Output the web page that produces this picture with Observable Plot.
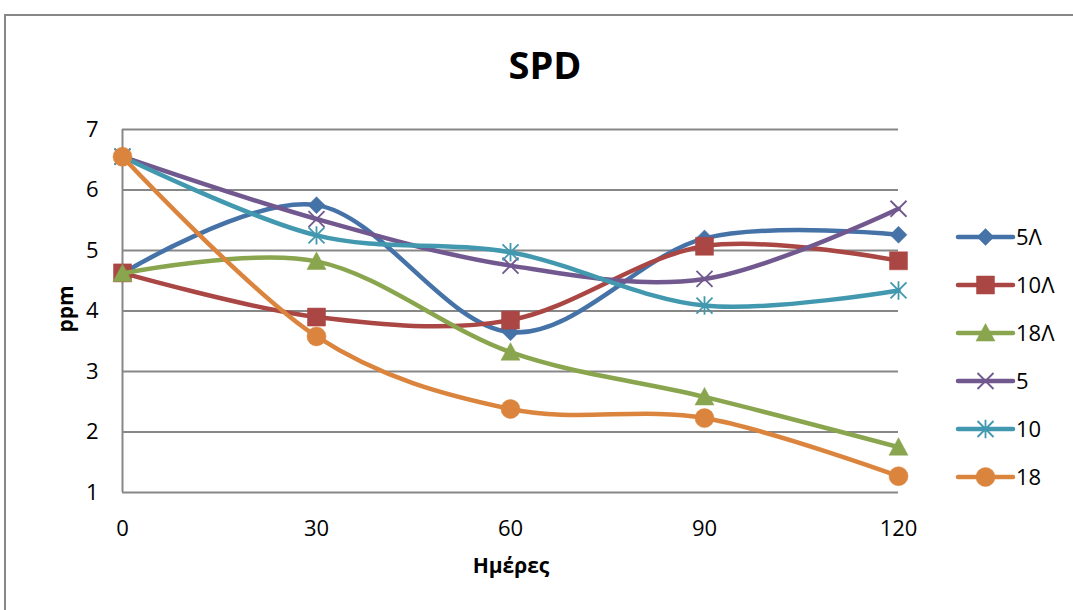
<!DOCTYPE html>
<html>
<head>
<meta charset="utf-8">
<script src="https://cdn.jsdelivr.net/npm/d3@7"></script>
<script src="https://cdn.jsdelivr.net/npm/@observablehq/plot@0.6"></script>
<style>
  html, body { margin: 0; padding: 0; background: #fff; }
  #chart svg { display: block; }
</style>
</head>
<body>
<div id="chart"></div>
<script>
// ---- data ----
const days = [0, 30, 60, 90, 120];
const yTicks = [1, 2, 3, 4, 5, 6, 7];
const seriesNames = ["5Λ", "10Λ", "18Λ", "5", "10", "18"];
const s5L  = [4.62, 5.75, 3.65, 5.20, 5.26];
const s10L = [4.63, 3.90, 3.85, 5.07, 4.83];
const s18L = [4.62, 4.82, 3.32, 2.58, 1.75];
const s5   = [6.55, 5.52, 4.75, 4.53, 5.69];
const s10  = [6.55, 5.25, 4.97, 4.09, 4.34];
const s18  = [6.55, 3.58, 2.38, 2.23, 1.27];
const seriesValues = [s5L, s10L, s18L, s5, s10, s18];
const title = "SPD";
const xLabel = "Ημέρες";
const yLabel = "ppm";

// ---- styles ----
const colors = ["#4572A7", "#AA4643", "#89A54E", "#71588F", "#4198AF", "#DB843D"];
const font = "'Open Sans', 'DejaVu Sans', sans-serif";

// custom Excel-like marker symbols; r = sqrt(size/π)
const rad = size => Math.sqrt(size / Math.PI);
const symDiamond = {draw(c, s) { const r = rad(s); c.moveTo(0, -r); c.lineTo(r, 0); c.lineTo(0, r); c.lineTo(-r, 0); c.closePath(); }};
const symSquare = {draw(c, s) { const r = rad(s); c.rect(-r, -r, 2 * r, 2 * r); }};
const symTriangle = {draw(c, s) { const r = rad(s); c.moveTo(0, -r); c.lineTo(r, 0.85 * r); c.lineTo(-r, 0.85 * r); c.closePath(); }};
const symTimes = {draw(c, s) { const r = rad(s); c.moveTo(-r, -r); c.lineTo(r, r); c.moveTo(-r, r); c.lineTo(r, -r); }};
const symAsterisk = {draw(c, s) { const r = rad(s); c.moveTo(-r, -r); c.lineTo(r, r); c.moveTo(-r, r); c.lineTo(r, -r); c.moveTo(0, -r * 1.15); c.lineTo(0, r * 1.15); }};
const symCircle = {draw(c, s) { const r = rad(s); c.moveTo(r, 0); c.arc(0, 0, r, 0, 2 * Math.PI); }};
const markers = [
  {symbol: symDiamond, r: 8.5, filled: true},
  {symbol: symSquare, r: 9, filled: true},
  {symbol: symTriangle, r: 9.5, filled: true},
  {symbol: symTimes, r: 8, filled: false},
  {symbol: symAsterisk, r: 8, filled: false},
  {symbol: symCircle, r: 9.5, filled: true}
];

const data = seriesNames.map((name, i) => days.map((d, j) => ({series: name, day: d, value: seriesValues[i][j]})));

const marks = [
  Plot.ruleY(yTicks, {stroke: "#878787", strokeWidth: 2}),
  Plot.ruleX([0], {stroke: "#878787", strokeWidth: 2}),
  Plot.axisX({ticks: days, tickSize: 0, tickPadding: 28, label: null, fontSize: 22, tickFormat: d3.format("d")}),
  Plot.axisY({ticks: yTicks, tickSize: 0, tickPadding: 24, label: null, fontSize: 22, tickFormat: d3.format("d")})
];
data.forEach((rows, i) => {
  marks.push(Plot.line(rows, {x: "day", y: "value", curve: "cardinal", stroke: colors[i], strokeWidth: 4.5, strokeLinecap: "round", strokeLinejoin: "round"}));
  const m = markers[i];
  marks.push(Plot.dot(rows, {x: "day", y: "value", symbol: m.symbol, r: m.r,
    fill: m.filled ? colors[i] : "none", stroke: colors[i], strokeWidth: m.filled ? 0.5 : 1.8}));
});

const svgNode = Plot.plot({
  width: 1073,
  height: 610,
  marginLeft: 122,
  marginRight: 175,
  marginTop: 129,
  marginBottom: 118,
  x: {domain: [0, 120]},
  y: {domain: [1, 7]},
  style: {fontFamily: font, fontSize: "22px", color: "#000", background: "#fff", overflow: "visible"},
  marks
});
document.getElementById("chart").appendChild(svgNode);

// ---- decorations: frame, titles, legend ----
const svg = d3.select(svgNode);
svg.insert("path", ":first-child")
  .attr("d", "M1074,15H5V611")
  .attr("fill", "none").attr("stroke", "#878787").attr("stroke-width", 2);

svg.append("text").text(title)
  .attr("x", 545).attr("y", 79).attr("text-anchor", "middle")
  .attr("font-family", font).attr("font-weight", "bold").attr("font-size", 38).attr("fill", "#000");
svg.append("text").text(xLabel)
  .attr("x", 511).attr("y", 573).attr("text-anchor", "middle")
  .attr("font-family", font).attr("font-weight", "bold").attr("font-size", 21).attr("fill", "#000");
svg.append("text").text(yLabel)
  .attr("transform", "translate(73,309) rotate(-90)").attr("text-anchor", "middle")
  .attr("font-family", font).attr("font-weight", "bold").attr("font-size", 21).attr("fill", "#000");

const legend = svg.append("g");
seriesNames.forEach((name, i) => {
  const y = 237 + i * 48;
  const g = legend.append("g").attr("transform", `translate(0,${y})`);
  g.append("line").attr("x1", 958).attr("x2", 1013).attr("y1", 0).attr("y2", 0)
    .attr("stroke", colors[i]).attr("stroke-width", 4.5).attr("stroke-linecap", "round");
  const m = markers[i];
  g.append("path").attr("transform", "translate(985.5,0)")
    .attr("d", d3.symbol().type(m.symbol).size(Math.PI * m.r * m.r)())
    .attr("fill", m.filled ? colors[i] : "none").attr("stroke", colors[i])
    .attr("stroke-width", m.filled ? 0.5 : 1.8);
  g.append("text").text(name).attr("x", 1016).attr("y", 0).attr("dy", "0.36em")
    .attr("text-anchor", "start")
    .attr("font-family", font).attr("font-size", 22).attr("fill", "#000");
});
</script>
</body>
</html>
